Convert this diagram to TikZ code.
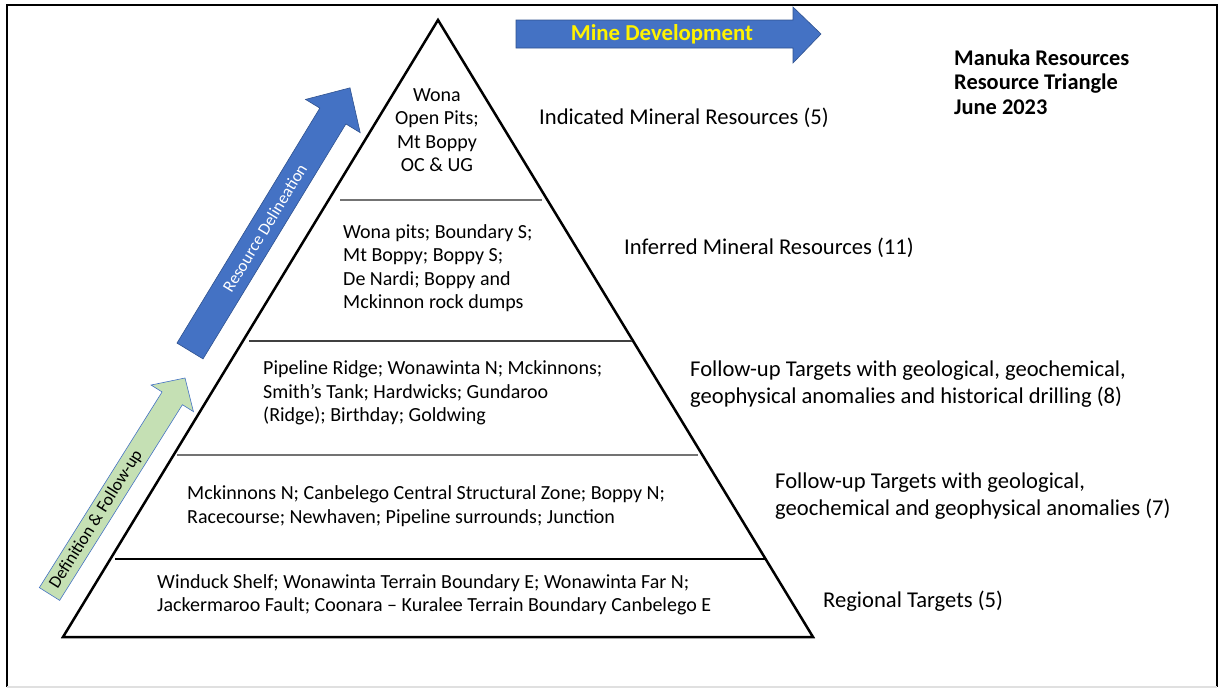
\documentclass[tikz,border=0pt]{standalone}
\usepackage{fontspec}
\setmainfont{Carlito}
\definecolor{arrowblue}{HTML}{4472C4}
\definecolor{arrowedge}{HTML}{2F528F}
\definecolor{followgreen}{HTML}{C5E0B4}
\tikzset{
  lbl/.style={font=\fontsize{20}{23.5}\selectfont, inner sep=0pt, align=left, anchor=west},
  rlbl/.style={lbl, font=\fontsize{22.6}{27}\selectfont},
  divider/.style={line width=1.2, black!55},
}
\begin{document}
\begin{tikzpicture}[x=1pt,y=-1pt]
\useasboundingbox (0,0) rectangle (1219,688);
\draw[line width=1.3] (7,687) -- (7,5) -- (1217,5) -- (1217,687);
\draw[line width=1.3, black!12] (7,687) -- (1217,687);
\coordinate (apex) at (438,20);
\coordinate (bl) at (63,637);
\coordinate (br) at (813,637);
\draw[line width=2.5, line join=miter] (bl) -- (apex) -- (br) -- cycle;
\coordinate (d1l) at (340,200);
\coordinate (d1r) at (542,200);
\coordinate (d2l) at (249,341);
\coordinate (d2r) at (632,341);
\coordinate (d3l) at (177,455);
\coordinate (d3r) at (698,455);
\coordinate (d4l) at (115,559);
\coordinate (d4r) at (766,559);
\draw[divider](d1l) -- (d1r);
\draw[divider, black!75](d2l) -- (d2r);
\draw[divider](d3l) -- (d3r);
\draw[divider, black](d4l) -- (d4r);
\node[lbl, align=center, anchor=center] (indtxt) at (437,130) {Wona\\Open Pits;\\Mt Boppy\\OC \& UG};
\node[lbl] (inftxt) at (343,268) {Wona pits; Boundary S;\\Mt Boppy; Boppy S;\\De Nardi; Boppy and\\Mckinnon rock dumps};
\node[lbl] (futxt) at (263,393) {Pipeline Ridge; Wonawinta N; Mckinnons;\\Smith’s Tank; Hardwicks; Gundaroo\\(Ridge); Birthday; Goldwing};
\node[lbl] (fu2txt) at (187,506) {Mckinnons N; Canbelego Central Structural Zone; Boppy N;\\Racecourse; Newhaven; Pipeline surrounds; Junction};
\node[lbl] (regtxt) at (157,595) {Winduck Shelf; Wonawinta Terrain Boundary E; Wonawinta Far N;\\Jackermaroo Fault; Coonara – Kuralee Terrain Boundary Canbelego E};
\node[rlbl] (indlbl) at (539,118) {Indicated Mineral Resources (5)};
\node[rlbl] (inflbl) at (624,248) {Inferred Mineral Resources (11)};
\node[rlbl] (fulbl) at (690,384) {Follow-up Targets with geological, geochemical,\\geophysical anomalies and historical drilling (8)};
\node[rlbl] (fu2lbl) at (775,496) {Follow-up Targets with geological,\\geochemical and geophysical anomalies (7)};
\node[rlbl] (reglbl) at (823,601) {Regional Targets (5)};
\node[lbl, font=\fontsize{22.4}{24.5}\selectfont\bfseries] (title) at (954,82) {Manuka Resources\\Resource Triangle\\June 2023};
\filldraw[fill=arrowblue, draw=arrowedge, line width=.6] (516,20) -- (793,20) -- (793,7) -- (821,34) -- (793,63) -- (793,48) -- (516,48) -- cycle;
\node[font=\fontsize{22.8}{26}\selectfont\bfseries, text=yellow, inner sep=0pt] (minedev) at (662,34) {Mine Development};
\begin{scope}[shift={(190,351)}, rotate=58.7]
\filldraw[fill=arrowblue, draw=arrowedge, line width=.6] (0,-15.25) -- (275,-15.25) -- (275,-32) -- (308,0) -- (275,32) -- (275,15.25) -- (0,15.25) -- cycle;
\node[font=\fontsize{17}{20}\selectfont, text=white, rotate=58.7, inner sep=0pt] (resdel) at (144,0) {Resource Delineation};
\end{scope}
\begin{scope}[shift={(49.5,594)}, rotate=57.9]
\filldraw[fill=followgreen, draw=arrowblue, line width=.6] (0,-12) -- (231,-12) -- (231,-25) -- (255,0) -- (231,25) -- (231,12) -- (0,12) -- cycle;
\node[font=\fontsize{17.5}{20}\selectfont, rotate=57.9, inner sep=0pt] (deffu) at (88,0) {Definition \& Follow-up};
\end{scope}
\end{tikzpicture}
\end{document}
